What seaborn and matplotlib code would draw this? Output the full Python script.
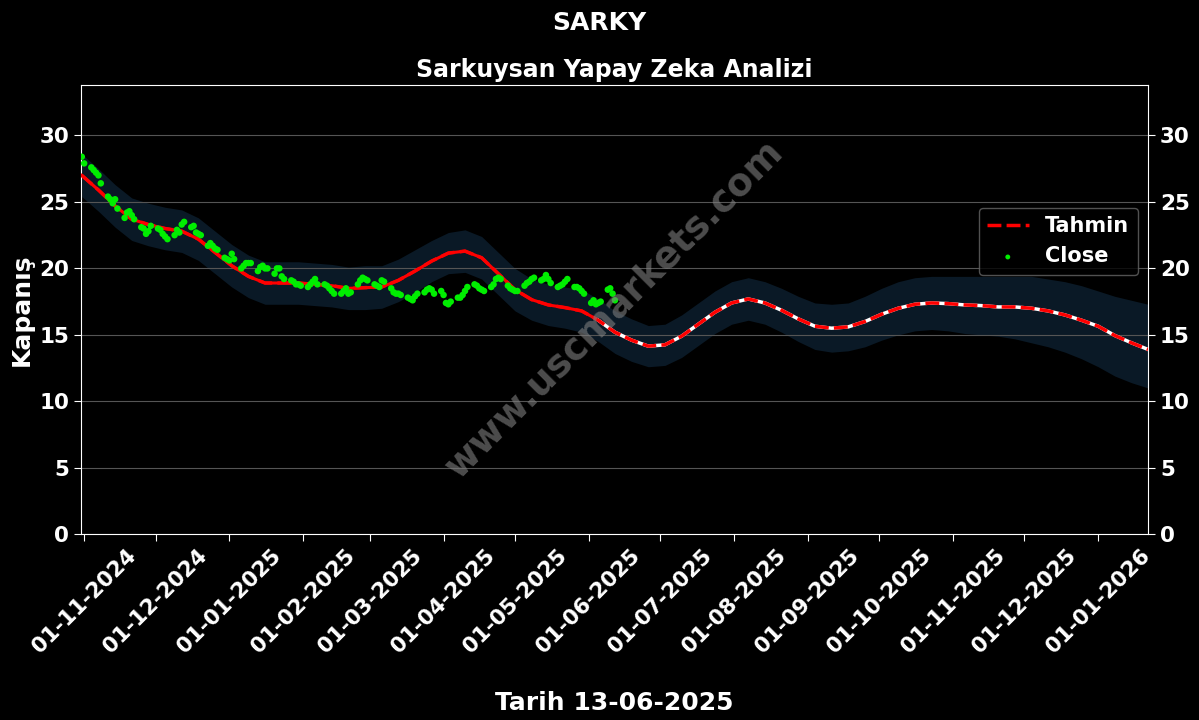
#!/usr/bin/env python3
import matplotlib
matplotlib.use('Agg')
import matplotlib.pyplot as plt
import matplotlib.dates as mdates
import numpy as np
import pandas as pd
import seaborn as sns

# weekly prediction ("Tahmin") and its band, starting 31-10-2024
pred_start = '2024-10-31'
pred_values = [27.0, 25.9, 24.7, 23.7, 23.3, 23.0, 22.8, 22.2, 21.2, 20.2,
               19.4, 18.9, 18.9, 18.9, 18.8, 18.7, 18.5, 18.55, 18.6, 19.1,
               19.8, 20.55, 21.15, 21.3, 20.8, 19.6, 18.4, 17.65, 17.25, 17.05,
               16.8, 16.1, 15.2, 14.6, 14.15, 14.25, 14.9, 15.8, 16.7, 17.4,
               17.7, 17.4, 16.85, 16.2, 15.65, 15.5, 15.6, 16.0, 16.55, 17.0,
               17.3, 17.4, 17.35, 17.25, 17.2, 17.1, 17.1, 17.0, 16.8, 16.5,
               16.1, 15.65, 14.95, 14.4, 13.9]
upper_values = [28.6, 27.5, 26.3, 25.3, 24.9, 24.6, 24.4, 23.8, 22.8, 21.8,
                21.0, 20.5, 20.5, 20.5, 20.4, 20.3, 20.1, 20.2, 20.2, 20.7,
                21.4, 22.1, 22.7, 22.9, 22.4, 21.2, 20.0, 19.2, 18.8, 18.6,
                18.4, 17.7, 16.8, 16.2, 15.7, 15.8, 16.5, 17.4, 18.3, 19.0,
                19.3, 19.0, 18.5, 17.9, 17.4, 17.3, 17.4, 17.9, 18.5, 19.0,
                19.3, 19.4, 19.4, 19.4, 19.4, 19.4, 19.4, 19.4, 19.2, 19.0,
                18.7, 18.3, 17.9, 17.6, 17.3]
lower_values = [25.4, 24.3, 23.1, 22.1, 21.7, 21.4, 21.2, 20.6, 19.6, 18.6,
                17.8, 17.3, 17.3, 17.3, 17.2, 17.1, 16.9, 16.9, 17.0, 17.5,
                18.2, 19.0, 19.6, 19.7, 19.2, 18.0, 16.8, 16.1, 15.7, 15.5,
                15.2, 14.5, 13.6, 13.0, 12.6, 12.7, 13.3, 14.2, 15.1, 15.8,
                16.1, 15.8, 15.2, 14.5, 13.9, 13.7, 13.8, 14.1, 14.6, 15.0,
                15.3, 15.4, 15.3, 15.1, 15.0, 14.9, 14.7, 14.4, 14.1, 13.7,
                13.2, 12.6, 11.9, 11.4, 11.0]

# daily closes (business days) from 31-10-2024 to 12-06-2025
close_start = '2024-10-31'
close_values = [
    28.4, 27.9,
    27.6, 27.4, 27.2, 27.0, 26.4,
    25.4, 25.2, 24.9, 25.2, 24.5,
    23.8, 24.2, 24.3, 24.0, 23.7,
    23.1, 23.0, 22.6, 22.8, 23.2,
    23.0, 22.9, 22.6, 22.4, 22.2,
    22.5, 22.9, 22.7, 23.3, 23.5,
    23.1, 23.2, 22.7, 22.6, 22.5,
    21.7, 21.9, 21.7, 21.5, 21.4,
    20.8, 20.7, 20.6, 21.1, 20.7,
    20.0, 20.2, 20.4, 20.4, 20.4,
    19.8, 20.1, 20.2, 20.0, 20.0,
    19.6, 20.0, 20.0, 19.4, 19.2,
    19.1, 19.0, 18.8, 18.8, 18.7,
    18.6, 18.8, 19.0, 19.2, 18.8,
    18.8, 18.7, 18.5, 18.3, 18.1,
    18.1, 18.3, 18.5, 18.1, 18.2,
    18.8, 19.1, 19.3, 19.2, 19.1,
    18.8, 18.7, 18.6, 19.1, 19.0,
    18.5, 18.2, 18.1, 18.1, 18.0,
    17.8, 17.7, 17.6, 17.9, 18.1,
    18.2, 18.4, 18.5, 18.4, 18.1,
    18.3, 18.0, 17.4, 17.3, 17.5,
    17.8, 17.8, 18.0, 18.3, 18.6,
    18.8, 18.7, 18.5, 18.4, 18.3,
    18.6, 18.8, 19.2, 19.3, 19.2,
    18.7, 18.5, 18.4, 18.3, 18.3,
    18.7, 18.9, 19.0, 19.2, 19.3,
    19.1, 19.2, 19.5, 19.2, 18.9,
    18.6, 18.7, 18.8, 19.0, 19.2,
    18.6, 18.6, 18.5, 18.3, 18.1,
    17.4, 17.6, 17.3, 17.4, 17.5,
    18.4, 18.5, 18.1, 17.6,
]

pred_df = pd.DataFrame({
    'date': pd.date_range(pred_start, periods=len(pred_values), freq='7D'),
    'pred': pred_values, 'upper': upper_values, 'lower': lower_values})
close_df = pd.DataFrame({
    'date': pd.bdate_range(close_start, periods=len(close_values)),
    'close': close_values})
last_date = close_df['date'].max()

plt.rcParams['font.family'] = ['DejaVu Sans']
plt.rcParams['font.weight'] = 'bold'

fig = plt.figure(figsize=(11.99, 7.2), dpi=100, facecolor='black')
ax = fig.add_axes([0.0676, 0.258, 0.89, 0.624])
ax.set_facecolor('black')

ax.fill_between(pred_df['date'], pred_df['lower'], pred_df['upper'],
                color='#0a1926', linewidth=0, zorder=1)

past = pred_df[pred_df['date'] <= last_date + pd.Timedelta(days=7)]
future = pred_df[pred_df['date'] >= last_date - pd.Timedelta(days=7)]
sns.lineplot(data=past, x='date', y='pred', color='red', linewidth=2.2,
             ax=ax, zorder=3)
sns.lineplot(data=future, x='date', y='pred', color='white', linewidth=2.5,
             ax=ax, zorder=3)
sns.lineplot(data=pred_df, x='date', y='pred', color='red', linewidth=2.5,
             linestyle=(0, (4, 1.5)), ax=ax, zorder=4, label='Tahmin')
sns.scatterplot(data=close_df, x='date', y='close', color='#00ee00', s=22,
                edgecolor='none', ax=ax, zorder=5, label='Close')

ax.text(0.5, 0.5, 'www.uscmarkets.com', transform=ax.transAxes,
        fontsize=27, fontweight='bold', color='#808080', alpha=0.6,
        rotation=45, ha='center', va='center', zorder=6)

ax.set_xlim(pred_df['date'].min() - pd.Timedelta(days=0.3), pred_df['date'].max())
ax.set_ylim(0, 33.8)
ax.set_yticks(np.arange(0, 31, 5))
ax.xaxis.set_major_locator(mdates.MonthLocator())
ax.xaxis.set_major_formatter(mdates.DateFormatter('%d-%m-%Y'))
ax.grid(axis='y', color='#555555', linewidth=0.8)
ax.grid(axis='x', visible=False)

ax.tick_params(colors='white', labelsize=15.5, right=True, labelright=True,
               length=5)
plt.setp(ax.get_xticklabels(), rotation=45, fontweight='bold')
plt.setp(ax.get_yticklabels(), fontweight='bold')
for lab in ax.yaxis.get_ticklabels(which='both'):
    lab.set_fontweight('bold')
for side in ['left', 'right', 'top', 'bottom']:
    ax.spines[side].set_color('white')

ax.set_xlabel('Tarih 13-06-2025', color='white', fontsize=18,
              fontweight='bold', labelpad=24)
ax.set_ylabel('Kapanış', color='white', fontsize=18, fontweight='bold')
ax.set_title('Sarkuysan Yapay Zeka Analizi', color='white', fontsize=17,
             fontweight='bold', pad=6)
fig.suptitle('SARKY', color='white', fontsize=18, fontweight='bold', y=0.985)

leg = ax.legend(loc='upper right', bbox_to_anchor=(1.0, 0.75),
                fontsize=15, facecolor='black', edgecolor='#666666',
                labelcolor='white', markerscale=0.75)
for t in leg.get_texts():
    t.set_fontweight('bold')

fig.savefig('out.png', dpi=100, facecolor='black')
